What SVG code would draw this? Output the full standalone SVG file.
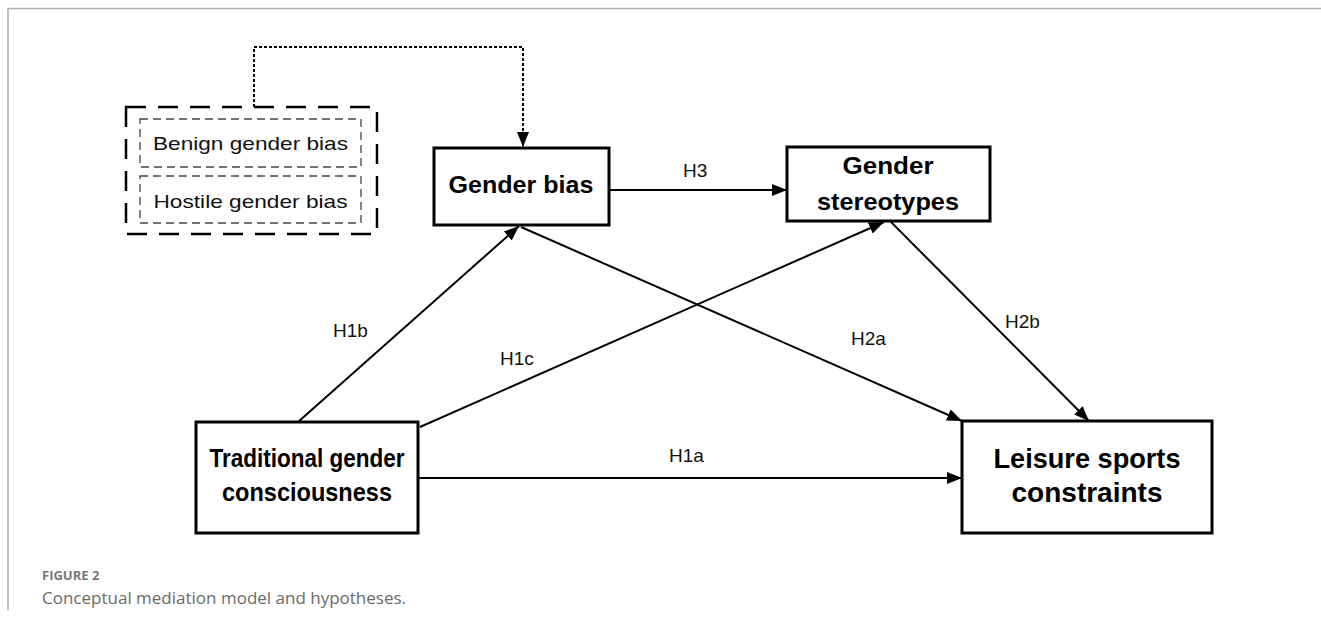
<svg xmlns="http://www.w3.org/2000/svg" width="1321" height="623" viewBox="0 0 1321 623">
<style>
.box{fill:#fff;stroke:#000;stroke-width:3}
.t{font-family:"Liberation Sans",Arial,sans-serif;font-weight:bold;fill:#000;text-anchor:middle}
.lab{font-family:"Liberation Sans",Arial,sans-serif;font-size:19px;fill:#111}
.sub{font-family:"Liberation Sans",Arial,sans-serif;font-size:19px;fill:#111;text-anchor:middle}
.con{fill:none;stroke:#000;stroke-width:2}
</style>
<defs>
<marker id="ah" markerWidth="15" markerHeight="12" refX="15" refY="6" orient="auto" markerUnits="userSpaceOnUse">
<path d="M0,0 L15,6 L0,12 Z" fill="#000"/>
</marker>
</defs>
<rect width="1321" height="623" fill="#fff"/>
<g id="frame">
<path d="M8,610 V8.5 H1321" fill="none" stroke="#b0b0b0" stroke-width="1.5"/>
</g>
<g id="connectors">
<path class="con" d="M254,107 V47 H523 V147" stroke-dasharray="3,2" stroke-width="1.6" marker-end="url(#ah)"/>
<line class="con" x1="609" y1="190" x2="787" y2="190" marker-end="url(#ah)"/>
<line class="con" x1="298" y1="422" x2="519" y2="226" marker-end="url(#ah)"/>
<line class="con" x1="420" y1="427" x2="884" y2="222" marker-end="url(#ah)"/>
<line class="con" x1="521" y1="227" x2="962" y2="421" marker-end="url(#ah)"/>
<line class="con" x1="891" y1="222" x2="1089" y2="421" marker-end="url(#ah)"/>
<line class="con" x1="418" y1="478" x2="962" y2="478" marker-end="url(#ah)"/>
<text class="lab" x="683" y="177">H3</text>
<text class="lab" x="333" y="337">H1b</text>
<text class="lab" x="500" y="365">H1c</text>
<text class="lab" x="851" y="345">H2a</text>
<text class="lab" x="1005" y="328">H2b</text>
<text class="lab" x="669" y="462">H1a</text>
</g>
<g id="gender-bias-types">
<rect x="126" y="107" width="251" height="127" fill="none" stroke="#000" stroke-width="2.5" stroke-dasharray="20,12"/>
<g id="benign">
<rect x="140" y="119" width="221" height="48" fill="none" stroke="#444" stroke-width="1.3" stroke-dasharray="8,5"/>
<text class="sub" x="250.5" y="150" textLength="195" lengthAdjust="spacingAndGlyphs">Benign gender bias</text>
</g>
<g id="hostile">
<rect x="140" y="176" width="221" height="47" fill="none" stroke="#444" stroke-width="1.3" stroke-dasharray="8,5"/>
<text class="sub" x="250.5" y="208" textLength="194" lengthAdjust="spacingAndGlyphs">Hostile gender bias</text>
</g>
</g>
<g id="gender-bias">
<rect class="box" x="434" y="148" width="175" height="77"/>
<text class="t" x="521" y="193" font-size="24" textLength="145" lengthAdjust="spacingAndGlyphs">Gender bias</text>
</g>
<g id="gender-stereotypes">
<rect class="box" x="787" y="147" width="203" height="74"/>
<text class="t" x="888" y="174" font-size="24" textLength="91" lengthAdjust="spacingAndGlyphs">Gender</text>
<text class="t" x="888" y="210" font-size="24" textLength="142" lengthAdjust="spacingAndGlyphs">stereotypes</text>
</g>
<g id="traditional">
<rect class="box" x="196" y="422" width="222" height="111"/>
<text class="t" x="307" y="467" font-size="26" textLength="195" lengthAdjust="spacingAndGlyphs">Traditional gender</text>
<text class="t" x="307" y="501" font-size="26" textLength="170" lengthAdjust="spacingAndGlyphs">consciousness</text>
</g>
<g id="leisure">
<rect class="box" x="962" y="421" width="250" height="112"/>
<text class="t" x="1087" y="468" font-size="28" textLength="187" lengthAdjust="spacingAndGlyphs">Leisure sports</text>
<text class="t" x="1087" y="502" font-size="28" textLength="151" lengthAdjust="spacingAndGlyphs">constraints</text>
</g>
<g id="caption">
<text x="42" y="580" font-family="'Open Sans','Liberation Sans',sans-serif" font-size="13" font-weight="bold" fill="#777">FIGURE 2</text>
<text x="42" y="604" font-family="'Open Sans','Liberation Sans',sans-serif" font-size="17" fill="#6a6a6a">Conceptual mediation model and hypotheses.</text>
</g>
</svg>
